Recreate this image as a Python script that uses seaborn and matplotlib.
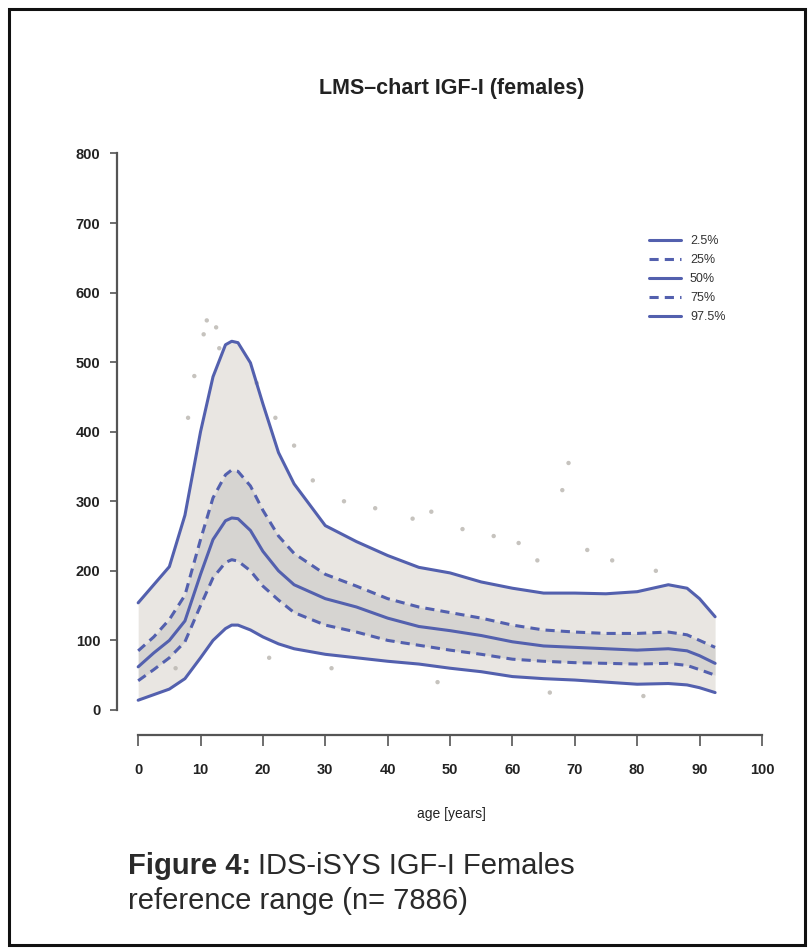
import pandas as pd
import seaborn as sns
import matplotlib.pyplot as plt
from matplotlib.patches import Rectangle

# Percentile curves (age in years, IGF-I in ng/mL)
ages = [0, 2.5, 5, 7.5, 10, 12, 14, 15, 16, 18, 20, 22.5, 25, 30, 35, 40, 45,
        50, 55, 60, 65, 70, 75, 80, 85, 88, 90, 92.5]
p025 = [14, 22, 30, 45, 75, 100, 117, 122, 122, 115, 105, 95, 88, 80, 75, 70, 66,
        60, 55, 48, 45, 43, 40, 37, 38, 36, 32, 25]
p25 = [42, 58, 75, 98, 150, 190, 212, 216, 214, 200, 178, 158, 140, 122, 112, 100, 93,
       86, 80, 73, 70, 68, 67, 66, 67, 64, 58, 50]
p50 = [62, 82, 100, 128, 195, 245, 272, 276, 275, 258, 228, 200, 180, 160, 148, 132, 120,
       114, 107, 98, 92, 90, 88, 86, 88, 85, 78, 67]
p75 = [85, 105, 130, 165, 245, 305, 338, 345, 343, 322, 287, 250, 225, 195, 178, 160, 148,
       140, 132, 122, 115, 112, 110, 110, 112, 108, 100, 90]
p975 = [154, 180, 206, 280, 400, 479, 525, 530, 528, 499, 440, 370, 325, 265, 242, 222, 205,
        197, 184, 175, 168, 168, 167, 170, 180, 175, 160, 134]

# a few stray measurements outside the bands
out_age = [9, 10.5, 11, 12.5, 13, 8, 19, 22, 25, 28, 33, 38, 44, 47, 52, 57, 61, 64,
           68, 69, 72, 76, 83, 6, 21, 31, 48, 66, 81]
out_igf = [480, 540, 560, 550, 520, 420, 470, 420, 380, 330, 300, 290, 275, 285, 260, 250,
           240, 215, 316, 355, 230, 215, 200, 60, 75, 60, 40, 25, 20]

centiles = ['2.5%', '25%', '50%', '75%', '97.5%']
values = [p025, p25, p50, p75, p975]

rows = []
for name, vals in zip(centiles, values):
    for a, v in zip(ages, vals):
        rows.append({'age': a, 'igf': v, 'centile': name})
df = pd.DataFrame(rows)

sns.set_style("white")
plt.rcParams['font.family'] = ['Liberation Sans', 'DejaVu Sans']

fig = plt.figure(figsize=(8.1, 9.49), dpi=100)
ax = fig.add_axes([0.1444, 0.2255, 0.827, 0.6348])

# measurement cloud
ax.fill_between(ages, p025, p975, color='#cfc9c0', alpha=0.45, lw=0)
ax.fill_between(ages, p25, p75, color='#b5b3b4', alpha=0.35, lw=0)
sns.scatterplot(x=out_age, y=out_igf, ax=ax, color='#b8b4ae', s=10,
                edgecolor='none', alpha=0.8)

line_col = '#5360ae'
sns.lineplot(data=df, x='age', y='igf', hue='centile', style='centile',
             hue_order=centiles, style_order=centiles,
             palette=[line_col] * 5,
             dashes={'2.5%': '', '25%': (3, 2), '50%': '', '75%': (3, 2), '97.5%': ''},
             linewidth=2.2, ax=ax)

ax.set_xlim(-3.4, 104)
ax.set_ylim(-36, 830)
ax.set_xticks(range(0, 101, 10))
ax.set_yticks(range(0, 801, 100))
sns.despine(ax=ax)
ax.spines['left'].set_bounds(0, 800)
ax.spines['bottom'].set_bounds(0, 100)
for s in ['left', 'bottom']:
    ax.spines[s].set_color('#555555')
    ax.spines[s].set_linewidth(1.6)
ax.tick_params(axis='y', length=5, width=1.2, color='#555555', pad=7, labelsize=10.5)
ax.tick_params(axis='x', length=8, width=1.2, color='#555555', pad=12, labelsize=10.5)
ax.yaxis.set_ticks_position('left')
ax.xaxis.set_ticks_position('bottom')
for lab in ax.get_xticklabels() + ax.get_yticklabels():
    lab.set_fontweight('bold')
    lab.set_color('#222222')

ax.set_xlabel('age [years]', fontsize=10, color='#222222', labelpad=22)
ax.set_ylabel('')
ax.set_title('LMS\u2013chart IGF-I (females)', fontsize=15.5, fontweight='bold',
             color='#222222', y=1.05)

leg = ax.legend(loc='upper left', bbox_to_anchor=(0.777, 0.848), frameon=False,
                fontsize=9, handlelength=2.6, labelspacing=0.55, handletextpad=0.7)
for t in leg.get_texts():
    t.set_color('#333333')

# caption
cap1 = fig.text(0.158, 0.079, 'Figure 4:', fontsize=21, fontweight='bold',
                color='#2a2a2a', va='baseline')
fig.canvas.draw()
bb = cap1.get_window_extent()
x2 = (bb.x1 + 7) / fig.bbox.width
fig.text(x2, 0.079, 'IDS-iSYS IGF-I Females', fontsize=21, color='#2a2a2a', va='baseline')
fig.text(0.158, 0.042, 'reference range (n= 7886)', fontsize=21, color='#2a2a2a',
         va='baseline')

# outer frame
fig.patches.append(Rectangle((0.011, 0.004), 0.983, 0.986, transform=fig.transFigure,
                             fill=False, edgecolor='#111111', linewidth=2.2))

fig.savefig('out.png', dpi=100)
